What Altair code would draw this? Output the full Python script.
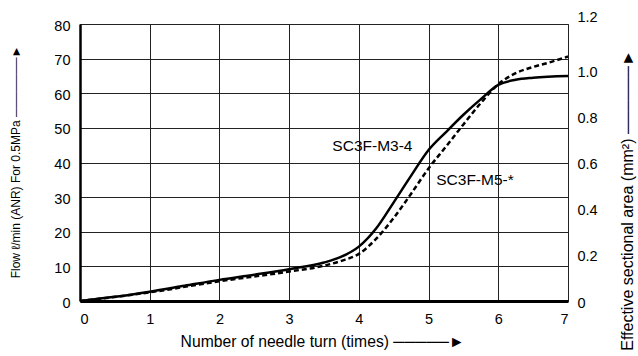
import altair as alt
import pandas as pd

# ---- data ----
turns_m3 = [0, 0.5, 1, 1.5, 2, 2.5, 3, 3.5, 3.75, 4, 4.25, 4.5, 4.75, 5, 5.25, 5.5, 5.75, 6, 6.25, 6.5, 7]
flow_m3 = [0, 1.2, 2.7, 4.4, 6.1, 7.6, 9.2, 11.1, 12.8, 15.7, 21.0, 28.5, 36.2, 43.6, 48.8, 53.8, 58.3, 62.4, 63.9, 64.5, 65.0]

turns_m5 = [0, 1, 2, 3, 3.5, 3.75, 4, 4.25, 4.5, 4.75, 5, 5.25, 5.5, 5.75, 6, 6.25, 6.5, 6.75, 7]
flow_m5 = [0, 2.5, 5.7, 8.5, 10.2, 11.6, 13.6, 18.0, 24.0, 31.0, 38.3, 44.6, 51.0, 57.2, 62.6, 65.8, 67.6, 69.0, 70.6]

label_text = ["SC3F-M3-4", "SC3F-M5-*"]
label_x = [3.62, 5.11]
label_y = [44.8, 34.9]

x_ticks = [0, 1, 2, 3, 4, 5, 6, 7]
left_ticks = [0, 10, 20, 30, 40, 50, 60, 70, 80]
right_ticks = [0, 0.2, 0.4, 0.6, 0.8, 1.0, 1.2]

FONT = "Liberation Sans, DejaVu Sans"
DASH = "\u2500"
HEAD = "\u25BA"

df_m3 = pd.DataFrame({"turn": turns_m3, "flow": flow_m3})
df_m5 = pd.DataFrame({"turn": turns_m5, "flow": flow_m5})
df_lab = pd.DataFrame({"label": label_text, "turn": label_x, "flow": label_y})
df_right = pd.DataFrame({"area": right_ticks})

x_scale = alt.Scale(domain=[0, 7], nice=False, zero=True)
y_scale = alt.Scale(domain=[0, 80], nice=False)

x_axis = alt.Axis(
    values=x_ticks, format="d", grid=True, gridColor="#222", gridWidth=1,
    domainColor="black", domainWidth=3, ticks=False, labelOverlap=False,
    labelPadding=11, labelFontSize=14.5, labelColor="black", labelFont=FONT,
    title="Number of needle turn (times) " + DASH * 5 + HEAD,
    titleFont=FONT, titleFontSize=15.7, titleFontWeight="normal", titleColor="black",
    titleX=242, titleY=40, titleAlign="center", titleBaseline="middle",
)

y_axis = alt.Axis(
    values=left_ticks, format="d", grid=True, gridColor="#222", gridWidth=1,
    domainColor="black", domainWidth=2.5, ticks=False, labelOverlap=False,
    labelPadding=10, labelFontSize=14.5, labelColor="black", labelFont=FONT,
    labelOffset=2,
    title="Flow \u2113/min (ANR) For 0.5MPa " + DASH * 7 + HEAD,
    titleFont=FONT, titleFontSize=12, titleFontWeight="normal", titleColor="black",
    titleAngle=270, titleX=-65, titleY=137.5, titleAlign="center", titleBaseline="middle",
)

X = alt.X("turn:Q", scale=x_scale, axis=x_axis)
Y = alt.Y("flow:Q", scale=y_scale, axis=y_axis)

line_m3 = alt.Chart(df_m3).mark_line(
    color="black", strokeWidth=2.5, interpolate="monotone"
).encode(x=X, y=Y)

line_m5 = alt.Chart(df_m5).mark_line(
    color="black", strokeWidth=2.5, strokeDash=[5, 3], interpolate="monotone"
).encode(x=X, y=Y)

labels = alt.Chart(df_lab).mark_text(
    align="left", baseline="middle", font="Liberation Sans", fontSize=15.5, color="black"
).encode(x=X, y=Y, text="label:N")

left = alt.layer(line_m3, line_m5, labels)

right = alt.Chart(df_right).mark_tick(opacity=0).encode(
    x=alt.value(0),
    y=alt.Y(
        "area:Q",
        scale=alt.Scale(domain=[0, 1.2], nice=False),
        axis=alt.Axis(
            orient="right", values=right_ticks, grid=False, domain=False, ticks=False,
            labelOverlap=False,
            labelPadding=9, labelFontSize=14.5, labelColor="black", labelFont=FONT,
            labelOffset=alt.condition("datum.value > 1.1", alt.value(-7), alt.value(2)),
            labelExpr="datum.value == 0 ? '0' : format(datum.value, '.1f')",
            title="Effective sectional area (mm\u00b2) " + DASH * 6 + HEAD,
            titleFont=FONT, titleFontSize=16, titleFontWeight="normal", titleColor="black",
            titleAngle=270, titleX=59, titleY=176, titleAlign="center", titleBaseline="middle",
        ),
    ),
)

chart = alt.layer(left, right).resolve_scale(y="independent").properties(
    width=488, height=277,
    autosize=alt.AutoSizeParams(type="none"),
    padding={"left": 80, "top": 24, "right": 70, "bottom": 55},
    background="white",
).configure_view(stroke="#444", strokeWidth=1)

chart.save("out.html", embed_options={"renderer": "svg", "actions": False})
